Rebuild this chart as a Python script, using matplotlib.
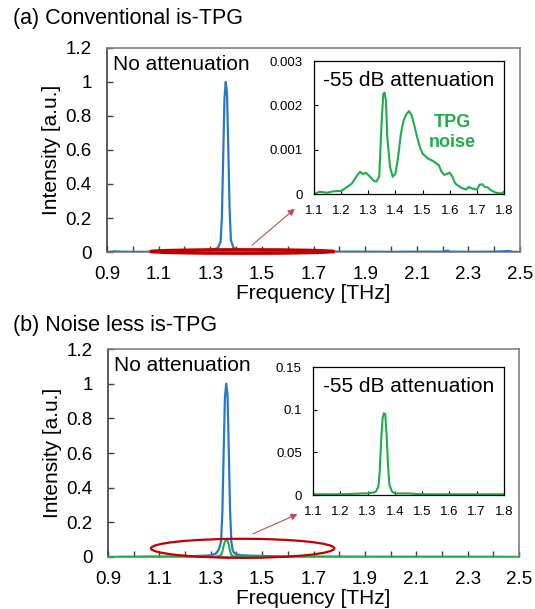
import numpy as np
import matplotlib
matplotlib.use('Agg')
import matplotlib.pyplot as plt
from matplotlib.patches import Ellipse

plt.rcParams['font.family'] = ['Liberation Sans', 'DejaVu Sans']

# (a) conventional is-TPG, no attenuation (blue)
freq_a_blue = [0.90, 0.93, 0.95, 1.00, 1.05, 1.10, 1.15, 1.20, 1.25, 1.28, 1.30, 1.32, 1.33,
               1.34, 1.345, 1.35, 1.355, 1.36, 1.365, 1.37, 1.375, 1.38, 1.39, 1.40, 1.42,
               1.45, 1.50, 1.55, 1.60, 1.70, 1.80, 1.90, 2.00, 2.10, 2.20, 2.22, 2.23, 2.30,
               2.40, 2.46, 2.47, 2.50]
int_a_blue = [0.0, 0.004, 0.002, 0.001, 0.001, 0.002, 0.003, 0.004, 0.006, 0.008, 0.012, 0.018, 0.025,
              0.06, 0.2, 0.55, 0.9, 1.0, 0.93, 0.6, 0.25, 0.07, 0.025, 0.018, 0.012,
              0.01, 0.008, 0.006, 0.005, 0.003, 0.002, 0.002, 0.001, 0.002, 0.002, 0.008, 0.002, 0.001,
              0.002, 0.006, 0.001, 0.0]

# (a) -55 dB attenuation (green, TPG noise)
freq_a_green = [1.10, 1.12, 1.15, 1.17, 1.20, 1.22, 1.24, 1.26, 1.27, 1.28, 1.29, 1.30, 1.32, 1.33,
                1.34, 1.35, 1.355, 1.36, 1.365, 1.37, 1.38, 1.39, 1.40, 1.41, 1.42, 1.43, 1.44,
                1.45, 1.46, 1.47, 1.48, 1.49, 1.50, 1.52, 1.54, 1.56, 1.57, 1.58, 1.60, 1.61,
                1.62, 1.64, 1.66, 1.67, 1.68, 1.70, 1.71, 1.72, 1.73, 1.74, 1.75, 1.77, 1.79, 1.80]
int_a_green = [0.0, 0.00005, 0.00003, 0.00006, 0.00007, 0.00015, 0.00024, 0.00043, 0.0005, 0.00045,
               0.00048, 0.00043, 0.0003, 0.00028, 0.00039, 0.00173, 0.00225, 0.00229, 0.0021, 0.00128,
               0.00061, 0.00039, 0.00046, 0.00084, 0.00136, 0.00166, 0.0018, 0.00187, 0.00177,
               0.00154, 0.00128, 0.00106, 0.00091, 0.0008, 0.00074, 0.00065, 0.0005, 0.00043,
               0.00048, 0.00039, 0.00024, 0.00015, 0.0001, 0.00016, 0.00013, 0.0001, 0.00021,
               0.00022, 0.00016, 0.00015, 0.00009, 0.00003, 0.00001, 0.00005]

# (b) noise less is-TPG, no attenuation (blue)
freq_b_blue = [0.90, 0.95, 1.00, 1.05, 1.10, 1.15, 1.20, 1.25, 1.28, 1.30, 1.32, 1.33, 1.335,
               1.34, 1.345, 1.35, 1.355, 1.36, 1.365, 1.37, 1.375, 1.38, 1.385, 1.39, 1.40, 1.42,
               1.45, 1.50, 1.55, 1.60, 1.70, 1.80, 1.90, 2.00, 2.10, 2.20, 2.30, 2.40, 2.50]
int_b_blue = [0.0, 0.001, 0.001, 0.002, 0.002, 0.003, 0.004, 0.006, 0.008, 0.01, 0.02, 0.04, 0.06,
              0.09, 0.25, 0.6, 0.92, 1.0, 0.94, 0.62, 0.27, 0.09, 0.04, 0.025, 0.015, 0.01,
              0.008, 0.006, 0.004, 0.003, 0.002, 0.002, 0.001, 0.001, 0.001, 0.001, 0.001, 0.001, 0.0]

# (b) -55 dB attenuation (green)
freq_b_green = [1.10, 1.15, 1.20, 1.25, 1.28, 1.30, 1.32, 1.33, 1.34, 1.345, 1.35, 1.355, 1.36,
                1.365, 1.37, 1.375, 1.38, 1.39, 1.40, 1.45, 1.50, 1.55, 1.60, 1.70, 1.80]
int_b_green = [0.001, 0.001, 0.001, 0.0015, 0.002, 0.002, 0.003, 0.004, 0.01, 0.03, 0.065, 0.09, 0.096,
               0.095, 0.07, 0.035, 0.012, 0.004, 0.002, 0.002, 0.001, 0.001, 0.001, 0.001, 0.001]

main_xticks = [0.9, 1.1, 1.3, 1.5, 1.7, 1.9, 2.1, 2.3, 2.5]
main_yticks = [0, 0.2, 0.4, 0.6, 0.8, 1.0, 1.2]
main_ylabels = ['0', '0.2', '0.4', '0.6', '0.8', '1', '1.2']
inset_xticks = [1.1, 1.2, 1.3, 1.4, 1.5, 1.6, 1.7, 1.8]
inset_a_yticks = [0, 0.001, 0.002, 0.003]
inset_a_ylabels = ['0', '0.001', '0.002', '0.003']
inset_b_yticks = [0, 0.05, 0.1, 0.15]
inset_b_ylabels = ['0', '0.05', '0.1', '0.15']

BLUE = '#2878c8'
GREEN = '#1fad4c'
RED = '#c00000'


def style_main(ax):
    ax.set_xlim(0.9, 2.5)
    ax.set_ylim(0, 1.2)
    ax.set_xticks(main_xticks)
    ax.set_xticklabels([f'{v:.1f}' for v in main_xticks])
    ax.set_xticks(np.round(np.arange(1.0, 2.5, 0.2), 1), minor=True)
    ax.set_yticks(main_yticks)
    ax.set_yticklabels(main_ylabels)
    ax.tick_params(which='both', direction='in', length=4, width=1, labelsize=13.5,
                   color='#404040')
    ax.tick_params(axis='x', which='both', pad=10)
    ax.tick_params(axis='y', right=False, pad=11)
    for s in ax.spines.values():
        s.set_color('#808080')
        s.set_linewidth(1.2)
    ax.spines['left'].set_color('#404040')
    ax.set_xlabel('Frequency [THz]', fontsize=15, labelpad=1)
    ax.set_ylabel('Intensity [a.u.]', fontsize=15, labelpad=3)
    ax.text(0.015, 0.965, 'No attenuation', transform=ax.transAxes, fontsize=15,
            va='top', ha='left')


def style_inset(ax, yticks, ylabels, ymax):
    ax.set_xlim(1.1, 1.8)
    ax.set_ylim(0, ymax)
    ax.set_xticks(inset_xticks)
    ax.set_xticklabels([f'{v:.1f}' for v in inset_xticks])
    ax.set_yticks(yticks)
    ax.set_yticklabels(ylabels)
    ax.tick_params(direction='in', length=3, width=0.8, labelsize=9.5)
    ax.tick_params(axis='x', pad=8)
    ax.tick_params(axis='y', pad=8)
    for s in ax.spines.values():
        s.set_color('black')
        s.set_linewidth(0.9)
    ax.text(0.5, 0.85, '-55 dB attenuation', transform=ax.transAxes, fontsize=15,
            va='center', ha='center')


fig = plt.figure(figsize=(5.35, 6.09), dpi=100)

# panel (a)
ax_a = fig.add_axes([0.200, 0.5862, 0.772, 0.335])
ax_a.plot([0.9] + freq_a_green + [2.5], [0.0] + int_a_green + [0.0], color=GREEN, lw=1.5, zorder=2)
ax_a.plot(freq_a_blue, int_a_blue, color=BLUE, lw=1.6, zorder=3)
style_main(ax_a)
ax_a.add_patch(Ellipse((1.424, 0.003), 0.714, 0.022, fill=False, edgecolor=RED, lw=2.2,
                       clip_on=False, zorder=4))
ax_a.annotate('', xy=(1.636, 0.265), xytext=(1.454, 0.03),
              arrowprops=dict(arrowstyle='-|>', color='#c0504d', lw=0.8,
                              mutation_scale=10))
fig.text(0.024, 0.970, '(a) Conventional is-TPG', fontsize=15.5, va='center', ha='left')

ins_a = fig.add_axes([0.587, 0.6814, 0.355, 0.2184])
ins_a.plot(freq_a_green, int_a_green, color=GREEN, lw=1.5)
style_inset(ins_a, inset_a_yticks, inset_a_ylabels, 0.003)
ins_a.text(0.73, 0.46, 'TPG\nnoise', transform=ins_a.transAxes, fontsize=13,
           fontweight='bold', color=GREEN, ha='center', va='center', linespacing=1.25)

# panel (b)
ax_b = fig.add_axes([0.202, 0.0854, 0.768, 0.3415])
ax_b.plot(freq_b_blue, int_b_blue, color=BLUE, lw=1.6, zorder=2)
ax_b.plot([0.9] + freq_b_green + [2.5], [0.0] + int_b_green + [0.0], color=GREEN, lw=1.5, zorder=3)
style_main(ax_b)
ax_b.add_patch(Ellipse((1.424, 0.05), 0.714, 0.11, fill=False, edgecolor=RED, lw=1.6,
                       clip_on=False, zorder=4))
ax_b.annotate('', xy=(1.648, 0.254), xytext=(1.454, 0.127),
              arrowprops=dict(arrowstyle='-|>', color='#c0504d', lw=0.8,
                              mutation_scale=10))
fig.text(0.024, 0.466, '(b) Noise less is-TPG', fontsize=15.5, va='center', ha='left')

ins_b = fig.add_axes([0.585, 0.187, 0.357, 0.210])
ins_b.plot(freq_b_green, int_b_green, color=GREEN, lw=1.5)
style_inset(ins_b, inset_b_yticks, inset_b_ylabels, 0.15)

fig.savefig('out.png', dpi=100)
